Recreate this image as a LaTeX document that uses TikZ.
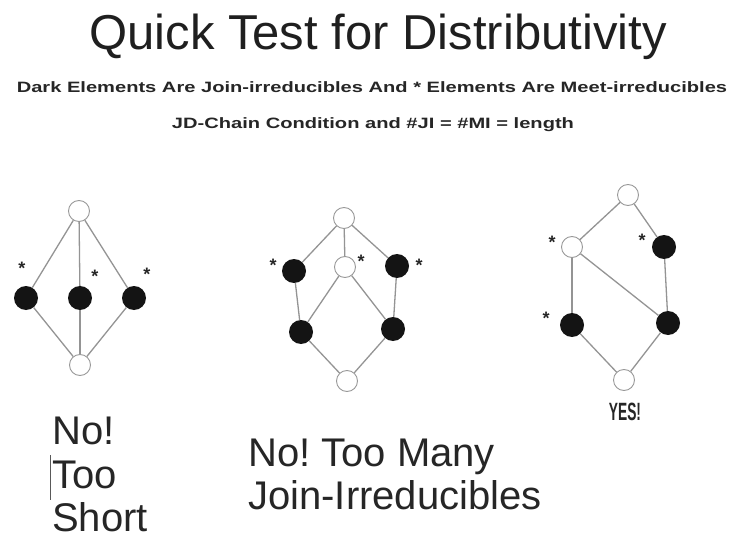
\documentclass[tikz,border=0pt]{standalone}
\usepackage{fontspec}
\setmainfont{Liberation Sans}
\usepackage{graphicx}
\frenchspacing
\begin{document}
\begin{tikzpicture}[x=1pt,y=-1pt,
  dark/.style={circle,fill=black!92,minimum size=24pt,inner sep=0pt},
  open/.style={circle,draw=black!40,fill=white,line width=0.9pt,minimum size=21pt,inner sep=0pt},
  link/.style={draw=black!42,line width=1.3pt},
  star/.style={font=\fontsize{18}{18}\selectfont\bfseries,inner sep=0pt,anchor=base,text=black!85},
  big/.style={font=\fontsize{40}{40}\selectfont,text=black!85,anchor=base west,inner sep=0pt},
  sub/.style={font=\fontsize{15}{15}\selectfont\bfseries,text=black!85,anchor=base,inner sep=0pt}]
\useasboundingbox (0,0) rectangle (747,540);
\fill[white] (0,0) rectangle (747,540);

% titles
\node[font=\fontsize{49}{49}\selectfont,text=black!88,anchor=base,inner sep=0pt] (title) at (378,50) {Quick Test for Distributivity};
\node[sub] (sub1) at (372,93) {\scalebox{1.34}[1]{Dark Elements Are Join-irreducibles And * Elements Are Meet-irreducibles}};
\node[sub] (sub2) at (373,129) {\scalebox{1.34}[1]{JD-Chain Condition and \#JI = \#MI = length}};

% diagram 1
\node[open] (a1) at (79,211) {};
\node[dark] (a2) at (26,298) {};
\node[dark] (a3) at (80,298) {};
\node[dark] (a4) at (134,298) {};
\node[open] (a5) at (80,365) {};
\draw[link] (a1) -- (a2);
\draw[link] (a1) -- (a3);
\draw[link] (a1) -- (a4);
\draw[link] (a2) -- (a5);
\draw[link] (a3) -- (a5);
\draw[link] (a4) -- (a5);
\node[star] (as1) at (22,274) {*};
\node[star] (as2) at (95,282) {*};
\node[star] (as3) at (147,280) {*};

% diagram 2
\node[open] (b1) at (344,218) {};
\node[open] (b2) at (345,267) {};
\node[dark] (b3) at (294,271) {};
\node[dark] (b4) at (397,266) {};
\node[dark] (b5) at (301,332) {};
\node[dark] (b6) at (393,329) {};
\node[open] (b7) at (347,381) {};
\draw[link] (b1) -- (b3);
\draw[link] (b1) -- (b2);
\draw[link] (b1) -- (b4);
\draw[link] (b3) -- (b5);
\draw[link] (b4) -- (b6);
\draw[link] (b2) -- (b5);
\draw[link] (b2) -- (b6);
\draw[link] (b5) -- (b7);
\draw[link] (b6) -- (b7);
\node[star] (bs1) at (273,271) {*};
\node[star] (bs2) at (361,267) {*};
\node[star] (bs3) at (419,271) {*};

% diagram 3
\node[open] (c1) at (628,195) {};
\node[open] (c2) at (572,247) {};
\node[dark] (c3) at (664,247) {};
\node[dark] (c4) at (572,325) {};
\node[dark] (c5) at (668,323) {};
\node[open] (c6) at (624,380) {};
\draw[link] (c1) -- (c2);
\draw[link] (c1) -- (c3);
\draw[link] (c2) -- (c4);
\draw[link] (c2) -- (c5);
\draw[link] (c3) -- (c5);
\draw[link] (c4) -- (c6);
\draw[link] (c5) -- (c6);
\node[star] (cs1) at (552,248) {*};
\node[star] (cs2) at (642,247) {*};
\node[star] (cs3) at (546,324) {*};
\node[font=\fontsize{25}{25}\selectfont\bfseries,text=black!85,anchor=base,inner sep=0pt] (yes) at (625,420) {\scalebox{0.55}[1]{YES!}};

% verdicts
\node[big] (t1) at (52,444) {No!};
\node[big] (t2) at (52,488) {Too};
\node[big] (t3) at (52,531) {Short};
\node[big] (t4) at (248,466) {No! Too Many};
\node[big] (t5) at (248,509) {Join-Irreducibles};
\coordinate (cur1) at (50,455);
\coordinate (cur2) at (50,500);
\draw[black!65,line width=1pt] (cur1) -- (cur2);
\end{tikzpicture}
\end{document}
